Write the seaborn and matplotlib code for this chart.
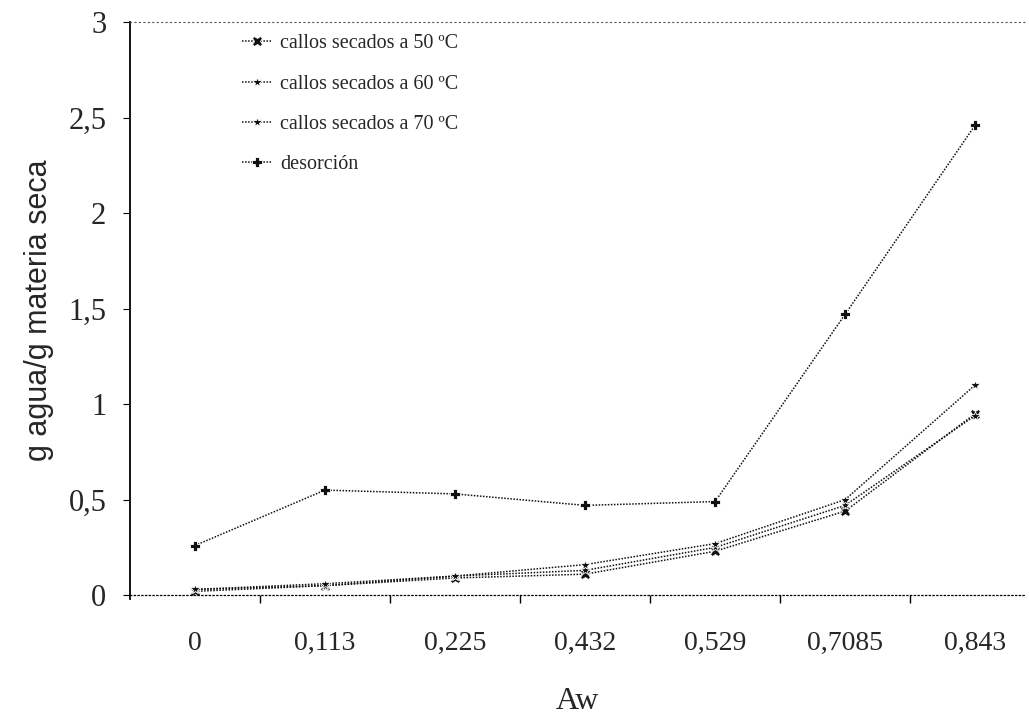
import matplotlib
matplotlib.use("Agg")
import matplotlib.pyplot as plt
import seaborn as sns
import pandas as pd
from matplotlib.ticker import FixedLocator

# Water activity levels (categorical x axis)
aw_labels = ["0", "0,113", "0,225", "0,432", "0,529", "0,7085", "0,843"]

# Moisture content (g agua / g materia seca)
secado_50 = [0.02, 0.05, 0.09, 0.11, 0.23, 0.44, 0.95]
secado_60 = [0.03, 0.05, 0.10, 0.13, 0.25, 0.47, 0.94]
secado_70 = [0.03, 0.06, 0.10, 0.16, 0.27, 0.50, 1.10]
desorcion = [0.26, 0.55, 0.53, 0.47, 0.49, 1.47, 2.46]

series_names = ["callos secados a 50 ºC", "callos secados a 60 ºC",
                "callos secados a 70 ºC", "desorción"]
series_values = [secado_50, secado_60, secado_70, desorcion]

y_ticks = [0, 0.5, 1, 1.5, 2, 2.5, 3]
y_tick_labels = ["0", "0,5", "1", "1,5", "2", "2,5", "3"]

rows = []
for name, vals in zip(series_names, series_values):
    for i, v in enumerate(vals):
        rows.append({"pos": i, "serie": name, "valor": v})
df = pd.DataFrame(rows)

sns.set_theme(style="white")
plt.rcParams["font.family"] = ["Liberation Serif", "DejaVu Serif"]

fig = plt.figure(figsize=(10.29, 7.19), dpi=100)
ax = fig.add_axes([0.1263, 0.1669, 0.870, 0.8025])

markers = {series_names[0]: "X", series_names[1]: "*",
           series_names[2]: "*", series_names[3]: "P"}
palette = {n: "#111111" for n in series_names}

sns.lineplot(data=df, x="pos", y="valor", hue="serie", style="serie",
             markers=markers, dashes=False, palette=palette,
             linewidth=1.1, markersize=7.5, markeredgewidth=0.6,
             ax=ax, legend=True)
for line in ax.lines:
    line.set_linestyle((0, (1, 1)))

ax.set_xlim(-0.5, 6.385)
ax.set_ylim(-0.02, 3.0)

# Dotted baseline at y = 0, light dotted frame on top, solid y axis
ax.spines["bottom"].set_position(("data", 0))
ax.spines["bottom"].set_linestyle((0, (1, 2)))
ax.spines["bottom"].set_color("black")
ax.spines["bottom"].set_linewidth(0.9)
ax.spines["top"].set_linestyle((0, (1, 3)))
ax.spines["top"].set_color("#555555")
ax.spines["top"].set_linewidth(0.8)
ax.spines["right"].set_visible(False)
ax.spines["left"].set_color("black")
ax.spines["left"].set_linewidth(1.3)

# Category labels on major ticks, tick marks between categories
ax.set_xticks(range(len(aw_labels)))
ax.set_xticklabels(aw_labels)
ax.xaxis.set_minor_locator(FixedLocator([0.5, 1.5, 2.5, 3.5, 4.5, 5.5]))
ax.tick_params(axis="x", which="major", length=0, pad=26, labelsize=20)
ax.tick_params(axis="x", which="minor", bottom=True, length=6, width=1.0,
               direction="out", color="black")

ax.set_yticks(y_ticks)
ax.set_yticklabels(y_tick_labels)
ax.tick_params(axis="y", left=True, length=5, width=0.8, direction="out",
               color="black", pad=12, labelsize=22)

ax.set_xlabel("Aw", fontsize=23, labelpad=22)
ax.set_ylabel("g agua/g materia seca", fontsize=22,
              family=["Liberation Sans Narrow", "Liberation Sans", "DejaVu Sans"],
              labelpad=10)

leg = ax.legend(loc="upper left", bbox_to_anchor=(0.105, 1.01), frameon=False,
                fontsize=14.5, handlelength=1.5, labelspacing=1.05,
                handletextpad=0.4, title=None)
for h in leg.legend_handles:
    h.set_linestyle((0, (1, 1)))

fig.savefig("out.png", dpi=100, facecolor="white")
